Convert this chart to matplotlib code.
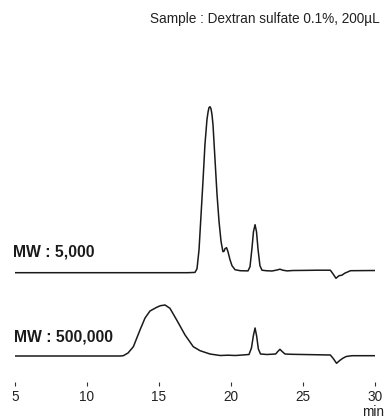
import matplotlib
matplotlib.use("Agg")
import matplotlib.pyplot as plt

plt.rcParams['font.family'] = ['Liberation Sans', 'DejaVu Sans']

# ---- data (time in min, detector signal in arbitrary units) ----
t_5k = [5.0, 17.0, 17.5, 17.64, 17.78, 17.92, 18.06, 18.19, 18.33, 18.41, 18.47,
        18.54, 18.61, 18.68, 18.75, 18.89, 19.03, 19.17, 19.31, 19.44, 19.52,
        19.58, 19.69, 19.79, 19.93, 20.07, 20.28, 20.63, 21.18, 21.32, 21.46,
        21.56, 21.67, 21.77, 21.88, 22.01, 22.15, 22.43, 22.85, 23.19, 23.4,
        23.6, 23.9, 24.3, 25.0, 26.0, 26.9, 27.1, 27.29, 27.5, 27.7, 27.9,
        28.3, 30.0]
s_5k = [0.0, 0.0, 0.3, 4, 23, 58, 93, 128, 153, 161, 165,
        166, 164, 158, 148, 113, 78, 51, 31, 21, 21.5,
        24, 25, 21, 13, 7, 3, 2, 1.8, 6, 25,
        41, 48, 41, 23, 7, 2.5, 2, 1.7, 2.7, 3.5,
        2.5, 1.8, 2.2, 2.3, 2.5, 2.5, -1.5, -5.6, -3, -2.5, -0.5,
        2, 2.2]

t_500k = [5.0, 12.3, 12.52, 12.85, 13.22, 13.68, 14.03, 14.375, 14.84, 15.1,
          15.42, 15.76, 16.23, 16.81, 17.38, 17.85, 18.54, 19.24, 19.8, 20.3,
          20.8, 21.25, 21.42, 21.55, 21.67, 21.78, 21.9, 22.05, 22.5, 23.1,
          23.25, 23.4, 23.55, 23.75, 24.2, 26.9, 27.1, 27.33, 27.55, 27.76,
          28.0, 28.4, 30.0]
s_500k = [0.0, 0.0, 0.3, 3, 9.3, 26, 38, 45, 48.7, 50.3,
          51, 47.7, 36, 21, 9.3, 5.3, 2, 0.5, 0.8, 0.5,
          1.0, 1.5, 8, 20, 28, 20, 7, 2, 1.5, 2,
          4.5, 6.7, 4.5, 2, 1.7, 1.0, -2.5, -7.3, -4.5, -2.3,
          -0.5, 0.3, 0.3]

x_ticks = [5, 10, 15, 20, 25, 30]
label_5k = "MW : 5,000"
label_500k = "MW : 500,000"
sample_text = "Sample : Dextran sulfate 0.1%, 200\u00b5L"
unit_text = "min"

# ---- layout ----
W, H = 384, 419
fig = plt.figure(figsize=(W / 100, H / 100), dpi=100)
ax_bottom_px = 382
ax_top_px = 30
ax = fig.add_axes([15 / W, 1 - ax_bottom_px / H, (375 - 15) / W,
                   (ax_bottom_px - ax_top_px) / H])
off_5k = ax_bottom_px - 272.7
off_500k = ax_bottom_px - 356.0

col = '#1a1a1a'
ax.plot(t_5k, [v + off_5k for v in s_5k], color=col, lw=1.1,
        solid_joinstyle='round')
ax.plot(t_500k, [v + off_500k for v in s_500k], color=col, lw=1.1,
        solid_joinstyle='round')

ax.set_xlim(5, 30)
ax.set_ylim(0, ax_bottom_px - ax_top_px)
for sp in ax.spines.values():
    sp.set_visible(False)
ax.set_yticks([])
ax.set_xticks(x_ticks)
ax.set_xticklabels([str(v) for v in x_ticks])
ax.tick_params(axis='x', direction='out', length=3.0, width=0.8,
               color='#333333', pad=2.5, labelsize=9.8, labelcolor='#222222')
ax.patch.set_alpha(0)

def ftext(x, y, s, **kw):
    fig.text(x / W, 1 - y / H, s, **kw)

ftext(373, 415.5, unit_text, ha='center', va='baseline', fontsize=9.8,
      color='#222222')
ftext(380, 22.5, sample_text, ha='right', va='baseline', fontsize=9.8,
      color='#222222')
ftext(13, 256.5, label_5k, ha='left', va='baseline', fontsize=11.3,
      fontweight='bold', color='#1a1a1a')
ftext(13.5, 342, label_500k, ha='left', va='baseline', fontsize=11.3,
      fontweight='bold', color='#1a1a1a')

fig.savefig('out.png', dpi=100)
